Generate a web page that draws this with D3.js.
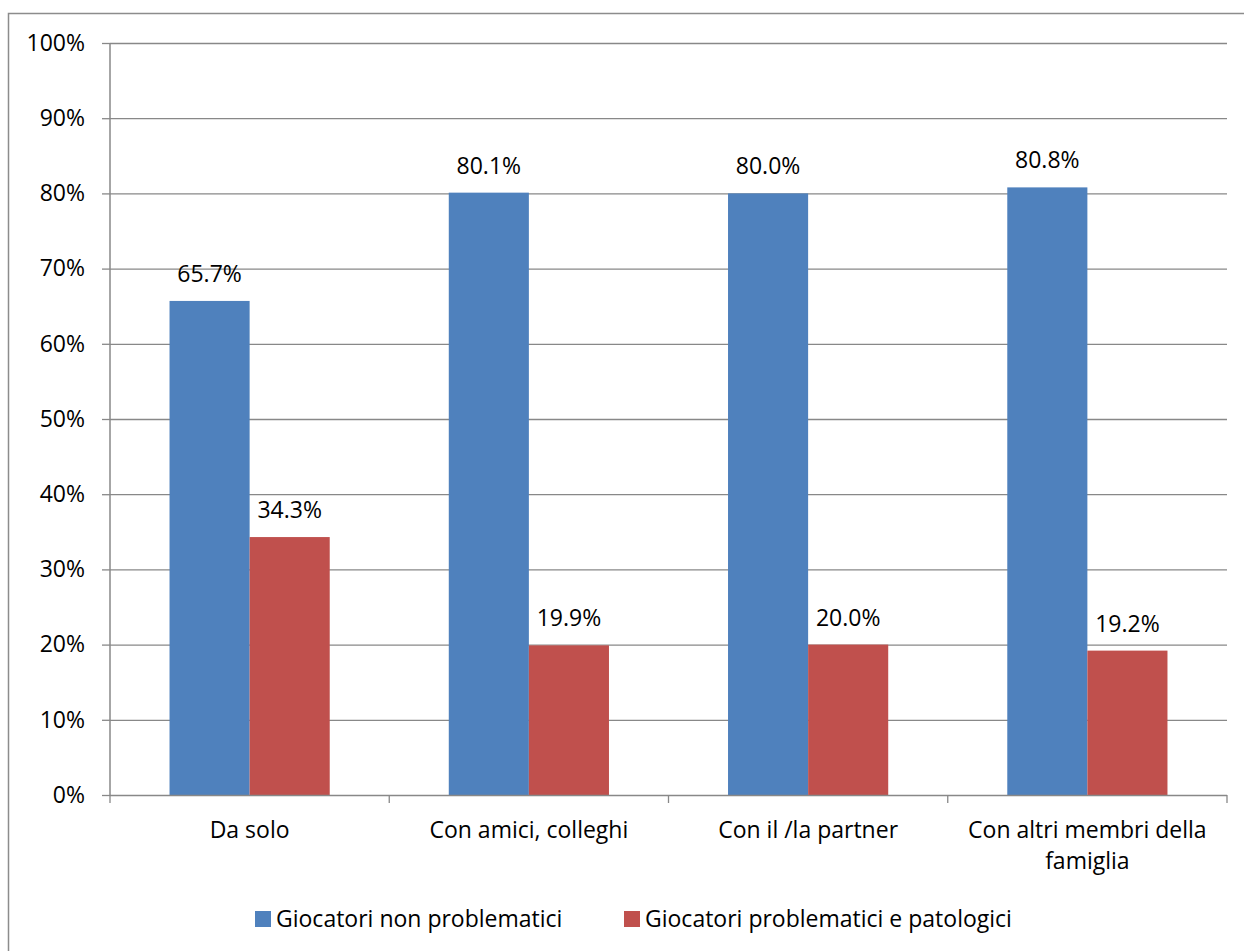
<!DOCTYPE html>
<html><head><meta charset="utf-8">
<script src="https://cdn.jsdelivr.net/npm/d3@7"></script>
<style>body{margin:0;background:#fff}svg{display:block}text{font-family:"Open Sans",sans-serif;fill:#000}</style>
</head><body><svg id="c" width="1244" height="951"></svg>
<script>
const categories = [["Da solo"],["Con amici, colleghi"],["Con il /la partner"],["Con altri membri della","famiglia"]];
const seriesNames = ["Giocatori non problematici","Giocatori problematici e patologici"];
const nonProblematici = [65.7,80.1,80.0,80.8];
const problematici = [34.3,19.9,20.0,19.2];
const yTicks = [0,10,20,30,40,50,60,70,80,90,100];
const colors = ["#4f81bd","#c0504d"];

const svg = d3.select("#c");
const L=110,R=1227,T=43,B=795;
const fs=23;
svg.append("rect").attr("x",8.5).attr("y",13.5).attr("width",1300).attr("height",1000).attr("fill","none").attr("stroke","#8c8c8c").attr("stroke-width",1.5);

const x0 = d3.scaleBand().domain(d3.range(categories.length)).range([L,R]).paddingInner(0).paddingOuter(0);
const x1 = d3.scaleBand().domain([0,1]).range([0,x0.bandwidth()]).paddingInner(0).paddingOuter(0.7432);
const y = d3.scaleLinear().domain([0,100]).range([B,T]);

svg.append("g").selectAll("line").data(yTicks.filter(d=>d>0)).join("line")
  .attr("x1",L).attr("x2",R).attr("y1",d=>y(d)+0.5).attr("y2",d=>y(d)+0.5)
  .attr("stroke","#888").attr("stroke-width",1.3);

const ya = svg.append("g").attr("transform",`translate(${L},0)`)
  .call(d3.axisLeft(y).tickValues(yTicks).tickFormat(d=>d+"%").tickSize(8).tickPadding(17));
ya.select(".domain").attr("stroke","#888").attr("stroke-width",1.5).attr("d",`M0,${T}V${B}`);
ya.selectAll(".tick line").attr("stroke","#888").attr("stroke-width",1.3);
ya.selectAll("text").style("font-size",fs+"px").style("font-family",'"Open Sans",sans-serif');

const data = categories.map((c,i)=>({i,vals:[nonProblematici[i],problematici[i]]}));
const g = svg.append("g").selectAll("g").data(data).join("g").attr("transform",d=>`translate(${x0(d.i)},0)`);
g.selectAll("rect").data(d=>d.vals.map((v,k)=>({v,k}))).join("rect")
  .attr("x",d=>x1(d.k)).attr("width",x1.bandwidth()).attr("y",d=>y(d.v)).attr("height",d=>B-y(d.v))
  .attr("fill",d=>colors[d.k]);
g.selectAll("text.lab").data(d=>d.vals.map((v,k)=>({v,k}))).join("text").attr("class","lab")
  .attr("x",d=>x1(d.k)+x1.bandwidth()/2).attr("y",d=>y(d.v)-19).attr("text-anchor","middle")
  .style("font-size",fs+"px").text(d=>d.v.toFixed(1)+"%");

svg.append("line").attr("x1",L).attr("x2",R).attr("y1",B+0.5).attr("y2",B+0.5).attr("stroke","#888").attr("stroke-width",1.5);
const bounds = d3.range(categories.length+1).map(i=> i<categories.length? x0(i): R);
svg.append("g").selectAll("line").data(bounds).join("line")
  .attr("x1",d=>d).attr("x2",d=>d).attr("y1",B).attr("y2",B+8).attr("stroke","#888").attr("stroke-width",1.3);
svg.append("g").selectAll("text").data(categories).join("text")
  .attr("text-anchor","middle").attr("x",(d,i)=>x0(i)+x0.bandwidth()/2).attr("y",838)
  .style("font-size",fs+"px")
  .each(function(d){const t=d3.select(this);d.forEach((s,j)=>t.append("tspan").attr("x",t.attr("x")).attr("dy",j?31:0).text(s));});

const leg=[{x:255,name:seriesNames[0],c:colors[0]},{x:624,name:seriesNames[1],c:colors[1]}];
const lg=svg.append("g").selectAll("g").data(leg).join("g");
lg.append("rect").attr("x",d=>d.x).attr("y",911).attr("width",16).attr("height",16).attr("fill",d=>d.c);
lg.append("text").attr("x",d=>d.x+21).attr("y",927).style("font-size",fs+"px").text(d=>d.name);
</script></body></html>
